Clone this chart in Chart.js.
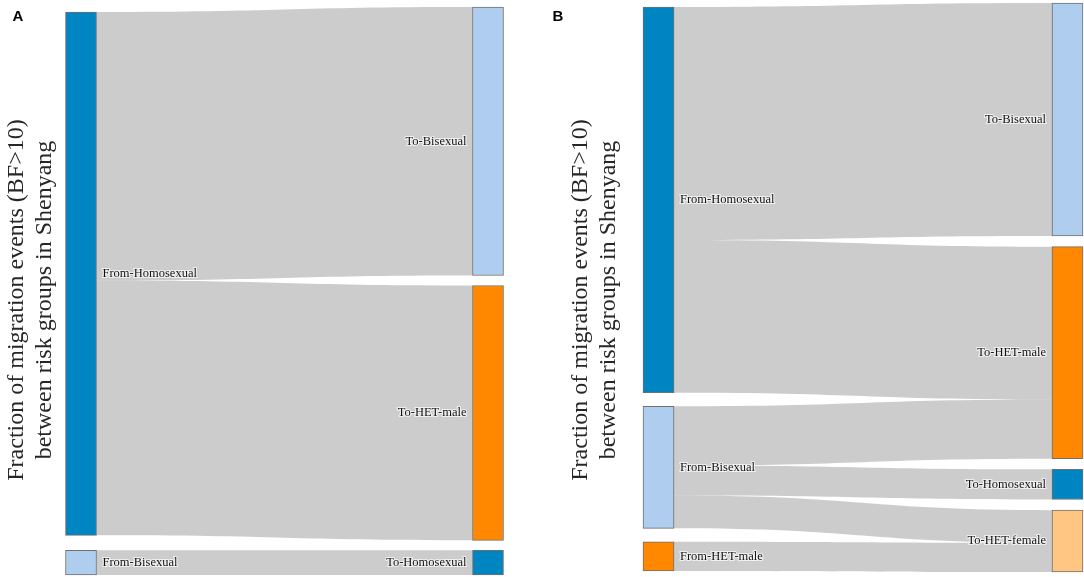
<!DOCTYPE html>
<html>
<head>
<meta charset="utf-8">
<script src="https://cdn.jsdelivr.net/npm/chart.js@4.4.0/dist/chart.umd.min.js"></script>
<style>
html, body { margin: 0; padding: 0; background: #fff; overflow: hidden; width: 1084px; height: 577px; }
.panel { position: absolute; top: 0; }
#wrapA { left: 0; width: 540px; height: 593px; }
#wrapB { left: 540px; width: 544px; height: 597px; }
</style>
</head>
<body>
<div class="panel" id="wrapA"><canvas id="sankeyA"></canvas></div>
<div class="panel" id="wrapB"><canvas id="sankeyB"></canvas></div>
<script>
const axisTitle = ["Fraction of migration events (BF>10)", "between risk groups in Shenyang"];

// panel A
const nodesA = ["From-Homosexual", "From-Bisexual", "To-Bisexual", "To-HET-male", "To-Homosexual"];
const columnA = [0, 0, 1, 1, 1];
const linkSourceA = [0, 0, 1];
const linkTargetA = [2, 3, 4];
const linkValueA = [0.49, 0.465, 0.045];

// panel B
const nodesB = ["From-Homosexual", "From-Bisexual", "From-HET-male", "To-Bisexual", "To-HET-male", "To-Homosexual", "To-HET-female"];
const columnB = [0, 0, 0, 1, 1, 1, 1];
const linkSourceB = [0, 0, 1, 1, 1, 2];
const linkTargetB = [3, 4, 4, 5, 6, 6];
const linkValueB = [0.433, 0.284, 0.110, 0.056, 0.061, 0.054];

const groupColor = {
    "Homosexual": "#0085c3",
    "Bisexual": "#afcdee",
    "HET-male": "#ff8800",
    "HET-female": "#ffc582"
};
const NODE_W = 31;

function groupOf(name) {
    return name.replace(/^(From|To)-/, "");
}

// stack the nodes of each column and work out where every link sits on its two nodes
function layout(names, columns, src, tgt, val, colStart, colGap) {
    const inSum = names.map(() => 0), outSum = names.map(() => 0);
    src.forEach((s, i) => { outSum[s] += val[i]; inSum[tgt[i]] += val[i]; });
    const size = names.map((_, i) => Math.max(inSum[i], outSum[i]));
    const cursor = colStart.slice();
    const top = [];
    names.forEach((_, i) => {
        const c = columns[i];
        top[i] = cursor[c];
        cursor[c] += size[i] + colGap[c];
    });
    const outPos = top.slice(), inPos = top.slice();
    const links = src.map((s, i) => {
        const t = tgt[i];
        const l = {sy: outPos[s], ty: inPos[t], value: val[i]};
        outPos[s] += val[i];
        inPos[t] += val[i];
        return l;
    });
    return {top, size, links};
}

function makeSankey(canvasId, letter, names, columns, src, tgt, val, cfg) {
    const lay = layout(names, columns, src, tgt, val, cfg.colStart, cfg.colGap);

    const datasets = names.map((name, i) => ({
        label: name,
        data: [{x: columns[i], y: [lay.top[i], lay.top[i] + lay.size[i]]}],
        backgroundColor: groupColor[groupOf(name)],
        borderColor: "rgba(50,50,50,0.7)",
        borderWidth: 1,
        borderSkipped: false,
        barThickness: NODE_W,
        grouped: false,
        clip: false
    }));

    const sankeyPlugin = {
        id: "sankey" + letter,
        beforeDatasetsDraw(chart) {
            const {ctx, scales: {x, y}} = chart;
            const x0 = x.getPixelForValue(0) + NODE_W / 2;
            const x1 = x.getPixelForValue(1) - NODE_W / 2;
            const xm = (x0 + x1) / 2;
            ctx.save();
            ctx.fillStyle = "rgba(0,0,0,0.2)";
            lay.links.forEach(l => {
                const a0 = y.getPixelForValue(l.sy), a1 = y.getPixelForValue(l.sy + l.value);
                const b0 = y.getPixelForValue(l.ty), b1 = y.getPixelForValue(l.ty + l.value);
                ctx.beginPath();
                ctx.moveTo(x0, a0);
                ctx.bezierCurveTo(xm, a0, xm, b0, x1, b0);
                ctx.lineTo(x1, b1);
                ctx.bezierCurveTo(xm, b1, xm, a1, x0, a1);
                ctx.closePath();
                ctx.fill();
            });
            ctx.restore();
        },
        afterDatasetsDraw(chart) {
            const {ctx, scales: {x, y}} = chart;
            ctx.save();
            ctx.font = '12.5px "Liberation Serif"';
            ctx.textBaseline = "middle";
            ctx.lineJoin = "round";
            names.forEach((name, i) => {
                const cy = y.getPixelForValue(lay.top[i] + lay.size[i] / 2);
                let tx;
                if (columns[i] === 0) {
                    ctx.textAlign = "left";
                    tx = x.getPixelForValue(0) + NODE_W / 2 + 6;
                } else {
                    ctx.textAlign = "right";
                    tx = x.getPixelForValue(1) - NODE_W / 2 - 6;
                }
                ctx.strokeStyle = "rgba(255,255,255,0.7)";
                ctx.lineWidth = 2.2;
                ctx.strokeText(name, tx, cy);
                ctx.fillStyle = "#111";
                ctx.fillText(name, tx, cy);
            });
            ctx.restore();
        },
        afterDraw(chart) {
            const ctx = chart.ctx;
            ctx.save();
            ctx.font = 'bold 15px "Liberation Sans"';
            ctx.fillStyle = "#000";
            ctx.textAlign = "left";
            ctx.textBaseline = "alphabetic";
            ctx.fillText(letter, 12.5, 20.5);
            ctx.restore();
        }
    };

    return new Chart(canvasId, {
        type: "bar",
        data: {datasets},
        options: {
            responsive: true,
            maintainAspectRatio: false,
            animation: false,
            events: [],
            layout: {padding: cfg.padding},
            plugins: {legend: {display: false}, tooltip: {enabled: false}},
            scales: {
                x: {type: "linear", min: 0, max: 1, offset: false, display: false},
                y: {
                    type: "linear",
                    reverse: true,
                    min: 0,
                    max: cfg.yMax,
                    ticks: {display: false},
                    grid: {display: false, drawTicks: false},
                    border: {display: false},
                    title: {
                        display: true,
                        text: axisTitle,
                        color: "#262626",
                        font: {family: "Liberation Serif", size: 24, lineHeight: 1.15},
                        padding: {top: cfg.titlePad, bottom: 0}
                    },
                    afterFit(scale) { scale.width = cfg.axisWidth; }
                }
            }
        },
        plugins: [sankeyPlugin]
    });
}

makeSankey("sankeyA", "A", nodesA, columnA, linkSourceA, linkTargetA, linkValueA, {
    colStart: [0.0091, 0],
    colGap: [0.0274, 0.0182],
    yMax: 1.0693,
    padding: {top: 7, bottom: 0, left: 0, right: 52},
    axisWidth: 81,
    titlePad: 3
});

makeSankey("sankeyB", "B", nodesB, columnB, linkSourceB, linkTargetB, linkValueB, {
    colStart: [0.0074, 0],
    colGap: [0.0251, 0.0199],
    yMax: 1.1041,
    padding: {top: 3, bottom: 0, left: 0, right: 16.5},
    axisWidth: 118.5,
    titlePad: 27
});
</script>
</body>
</html>
